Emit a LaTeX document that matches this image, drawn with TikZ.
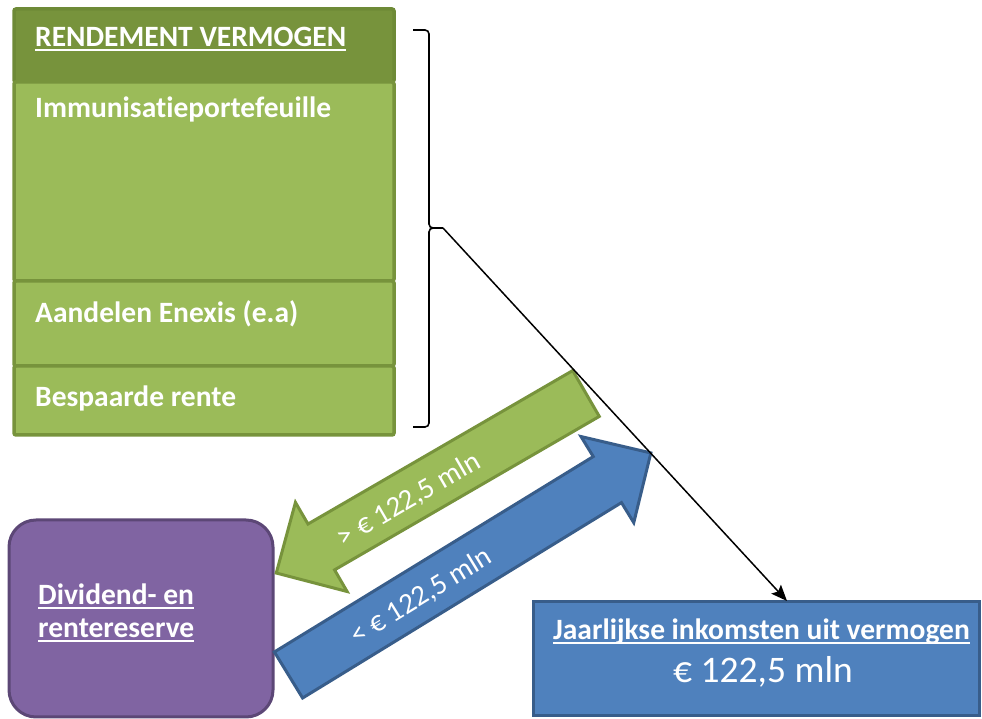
\documentclass[tikz,border=0pt]{standalone}
\usepackage{fontspec}
\setmainfont{Carlito}[Ligatures={NoCommon}]
\usetikzlibrary{arrows.meta}
\definecolor{hdrgreen}{HTML}{77933C}
\definecolor{hdrline}{HTML}{6E8A37}
\definecolor{lgreen}{HTML}{9BBB59}
\definecolor{lgreenline}{HTML}{77933C}
\definecolor{bfill}{HTML}{4F81BD}
\definecolor{bline}{HTML}{385D8A}
\definecolor{pfill}{HTML}{8064A2}
\definecolor{pline}{HTML}{5C4776}
\newcommand\myul[1]{\sbox0{#1}\rlap{\rule[-4.5pt]{\wd0}{2.2pt}}\usebox0}
\tikzset{
  hdrbox/.style={draw=hdrline, fill=hdrgreen, line width=3.5pt, rounded corners=2pt},
  gbox/.style={draw=lgreenline, fill=lgreen, line width=3.5pt, rounded corners=2pt},
  btxt/.style={text=white, inner sep=0pt, anchor=base west, font=\fontsize{29.5}{35}\selectfont\bfseries},
  ctxt/.style={text=white, inner sep=0pt, anchor=base, font=\fontsize{29.5}{35}\selectfont\bfseries},
  atxt/.style={text=white, inner sep=0pt, font=\fontsize{29}{35}\selectfont},
  garrow/.style={draw=lgreenline, fill=lgreen, line width=3pt, line join=miter},
  barrow/.style={draw=bline, fill=bfill, line width=3pt, line join=miter},
  brace/.style={draw=black, line width=1.6pt},
  conn/.style={draw=black, line width=1.5pt, -{Stealth[length=16pt,width=13pt,inset=3pt]}}
}
\begin{document}
\begin{tikzpicture}[x=1pt,y=1pt]
\useasboundingbox (0,0) rectangle (982,719);
% left stack of boxes
\draw[hdrbox] (14,710) rectangle (394,637);
\draw[gbox] (14,637) rectangle (394,438);
\draw[gbox] (14,438) rectangle (394,353);
\draw[gbox] (14,353) rectangle (394,284);
\node[btxt] (rend) at (35,672) {\myul{RENDEMENT VERMOGEN}};
\node[btxt] (immu) at (35,601) {Immunisatieportefeuille};
\node[btxt] (aand) at (35,396) {Aandelen Enexis (e.a)};
\node[btxt] (besp) at (35,312) {Bespaarde rente};
% brace
\draw[brace] (413,689) -- (425,689) to[out=0,in=90] (429,685) -- (429,495)
  to[out=-90,in=180] (433,491) -- (443,491);
\draw[brace] (433,491) to[out=180,in=90] (429,487) -- (429,296)
  to[out=-90,in=0] (425,292) -- (413,292);
\coordinate (bracetip) at (443,491);
% purple box
\node[draw=pline, fill=pfill, line width=3pt, rounded corners=27pt,
  minimum width=264pt, minimum height=197pt, inner sep=0pt] (div) at (141,100.5) {};
\node[btxt] (div1) at (38,114) {\myul{Dividend- en}};
\node[btxt] (div2) at (38,81) {\myul{rentereserve}};
% blue box
\node[draw=bline, fill=bfill, line width=3pt, minimum width=446pt,
  minimum height=114pt, inner sep=0pt] (jaar) at (756.5,60) {};
\node[ctxt] (jaar1) at (761.5,79) {\myul{Jaarlijkse inkomsten uit vermogen}};
\node[text=white, inner sep=0pt, anchor=base, font=\fontsize{37.5}{44}\selectfont] (jaar2) at (763,36) {€ 122,5 mln};
% green block arrow (to the reserve)
\begin{scope}[shift={(586,325.5)}, rotate=210.1]
\draw[garrow] (0,-26.5) -- (306,-26.5) -- (306,-51.5) -- (358,0) -- (306,51.5) -- (306,26.5) -- (0,26.5) -- cycle;
\end{scope}
\node[atxt, rotate=30.1] (gtxt) at (409,219) {> € 122,5 mln};
% blue block arrow (from the reserve)
\begin{scope}[shift={(288.5,44)}, rotate=31.5]
\draw[barrow] (0,-27) -- (374,-27) -- (374,-50.5) -- (425,0) -- (374,50.5) -- (374,27) -- (0,27) -- cycle;
\end{scope}
\node[atxt, rotate=31.5] (btxt2) at (421.5,122.5) {< € 122,5 mln};
% connector
\coordinate (jtop) at (787,118);
\draw[conn] (bracetip) -- (jtop);
\end{tikzpicture}
\end{document}
